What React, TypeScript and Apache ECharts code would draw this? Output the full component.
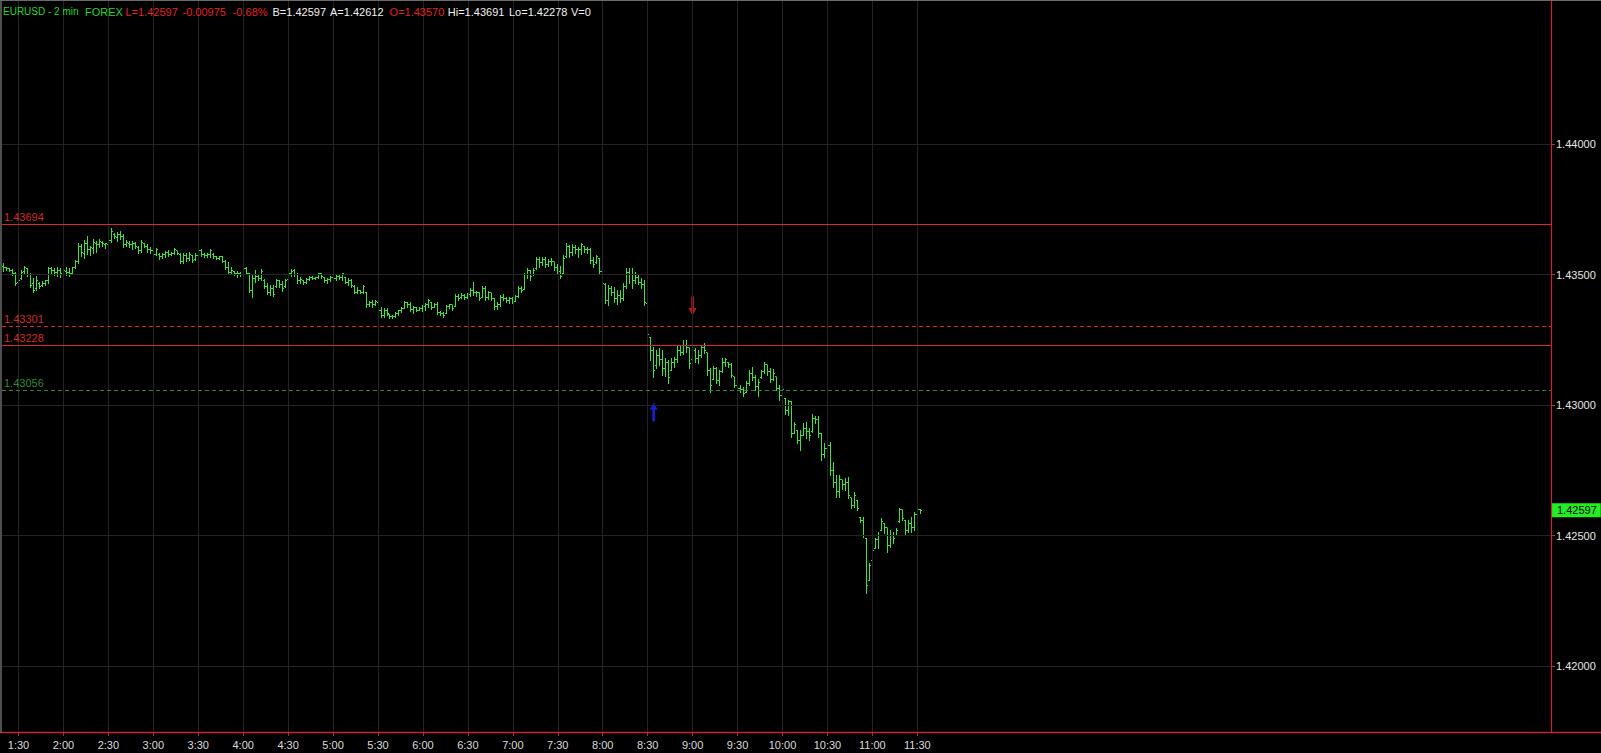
import React, { useEffect, useRef } from 'react';
import * as echarts from 'echarts';

// ---------- data ----------
const firstBarTime = '1:20';
const barMinutes = 2;
const slotCount = 517;
const timeLabels = ['1:30', '2:00', '2:30', '3:00', '3:30', '4:00', '4:30', '5:00', '5:30', '6:00', '6:30', '7:00', '7:30', '8:00', '8:30', '9:00', '9:30', '10:00', '10:30', '11:00', '11:30'];
const priceTicks = [1.42, 1.425, 1.43, 1.435, 1.44];
const priceMin = 1.417429;
const priceMax = 1.445494;
const levelPrices = [1.43694, 1.43301, 1.43228, 1.43056];
const lastPrice = 1.42597;
const signalBars = [217, 230];
const signalPrices = [1.42974, 1.4338];
const headerTexts = ['EURUSD - 2 min', 'FOREX', 'L=1.42597', '-0.00975', '-0.68%', 'B=1.42597', 'A=1.42612', 'O=1.43570', 'Hi=1.43691', 'Lo=1.42278', 'V=0'];

// [open, high, low, close] in 1e-5 units
const ohlcBars = [
  [143533,143545,143514,143526],[143526,143529,143518,143522],[143522,143526,143514,143518],[143518,143522,143499,143506],
  [143506,143510,143460,143468],[143472,143483,143468,143479],[143487,143518,143483,143510],[143514,143533,143506,143526],
  [143522,143526,143495,143499],[143499,143506,143453,143460],[143468,143487,143433,143441],[143449,143495,143441,143479],
  [143468,143472,143449,143456],[143460,143476,143456,143468],[143468,143479,143460,143476],[143476,143529,143468,143522],
  [143522,143529,143506,143518],[143518,143526,143499,143510],[143510,143529,143495,143518],[143518,143526,143491,143503],
  [143499,143529,143491,143518],[143514,143529,143499,143510],[143510,143526,143495,143503],[143506,143529,143503,143526],
  [143529,143556,143526,143549],[143549,143621,143545,143610],[143610,143618,143572,143587],[143583,143633,143564,143621],
  [143618,143648,143579,143595],[143595,143610,143575,143606],[143602,143637,143583,143625],[143621,143629,143587,143614],
  [143614,143637,143606,143629],[143625,143629,143610,143618],[143614,143621,143602,143618],[143614,143637,143606,143633],
  [143633,143679,143625,143667],[143656,143660,143641,143648],[143644,143664,143629,143656],[143656,143667,143637,143648],
  [143648,143656,143606,143614],[143614,143633,143610,143625],[143621,143629,143606,143614],[143614,143629,143598,143621],
  [143621,143625,143602,143610],[143606,143610,143583,143591],[143591,143633,143587,143625],[143618,143621,143606,143610],
  [143610,143618,143587,143595],[143598,143606,143583,143591],[143591,143598,143572,143579],[143579,143602,143575,143595],
  [143579,143583,143560,143568],[143568,143583,143564,143579],[143579,143591,143568,143587],[143587,143595,143572,143579],
  [143579,143587,143575,143583],[143583,143602,143579,143595],[143591,143591,143579,143583],[143579,143583,143545,143552],
  [143552,143583,143545,143572],[143572,143583,143552,143564],[143564,143587,143556,143579],[143572,143575,143549,143556],
  [143560,143583,143556,143575],[143572,143598,143564,143591],[143591,143598,143572,143579],[143579,143583,143568,143575],
  [143572,143583,143568,143579],[143579,143598,143568,143591],[143579,143583,143564,143568],[143568,143572,143560,143564],
  [143564,143572,143560,143568],[143568,143572,143549,143552],[143552,143556,143522,143529],[143529,143549,143503,143510],
  [143510,143529,143506,143518],[143514,143514,143499,143503],[143503,143514,143491,143506],[143506,143510,143495,143499],
  [143499,143529,143499,143522],[143522,143529,143503,143506],[143503,143506,143433,143441],[143441,143503,143414,143487],
  [143487,143518,143472,143495],[143495,143499,143479,143487],[143487,143522,143479,143514],[143479,143483,143449,143456],
  [143456,143468,143426,143433],[143433,143460,143422,143449],[143449,143460,143418,143426],[143456,143483,143453,143476],
  [143476,143479,143453,143464],[143464,143476,143437,143449],[143456,143483,143453,143479],[143483,143510,143479,143506],
  [143506,143522,143495,143514],[143518,143522,143495,143499],[143499,143506,143468,143476],[143476,143491,143468,143483],
  [143476,143479,143464,143472],[143472,143487,143468,143483],[143483,143495,143479,143491],[143491,143495,143483,143487],
  [143487,143491,143483,143491],[143491,143506,143487,143503],[143503,143506,143487,143495],[143491,143491,143472,143476],
  [143476,143487,143468,143483],[143483,143495,143476,143491],[143491,143495,143483,143487],[143487,143499,143479,143495],
  [143495,143499,143483,143491],[143491,143506,143479,143503],[143491,143491,143468,143472],[143472,143487,143460,143479],
  [143479,143483,143453,143460],[143456,143460,143430,143433],[143433,143453,143430,143441],[143441,143441,143430,143433],
  [143433,143460,143430,143456],[143430,143433,143376,143384],[143384,143399,143380,143395],[143395,143403,143376,143384],
  [143387,143403,143384,143399],[143395,143395,143353,143361],[143361,143376,143338,143345],[143345,143372,143338,143364],
  [143364,143372,143345,143353],[143349,143349,143334,143338],[143338,143345,143334,143341],[143341,143357,143338,143353],
  [143353,143364,143345,143361],[143361,143376,143357,143372],[143372,143399,143372,143395],[143395,143395,143376,143384],
  [143384,143395,143361,143368],[143368,143380,143353,143376],[143376,143376,143361,143364],[143364,143376,143364,143372],
  [143372,143384,143361,143380],[143380,143391,143364,143387],[143387,143407,143376,143403],[143395,143395,143368,143376],
  [143376,143391,143376,143387],[143387,143395,143349,143357],[143357,143361,143345,143353],[143353,143357,143338,143345],
  [143353,143384,143353,143380],[143380,143387,143372,143384],[143384,143384,143364,143372],[143380,143426,143380,143418],
  [143418,143426,143403,143410],[143414,143430,143410,143422],[143422,143426,143407,143414],[143414,143430,143410,143426],
  [143426,143449,143418,143441],[143441,143472,143422,143430],[143430,143437,143418,143433],[143433,143433,143403,143410],
  [143414,143456,143414,143449],[143449,143456,143403,143414],[143414,143437,143407,143430],[143430,143430,143403,143410],
  [143410,143410,143368,143380],[143380,143395,143368,143387],[143387,143422,143380,143414],[143414,143426,143403,143410],
  [143410,143414,143395,143403],[143403,143414,143391,143407],[143407,143414,143391,143399],[143399,143422,143399,143418],
  [143418,143456,143414,143449],[143449,143456,143433,143441],[143445,143506,143445,143499],[143499,143526,143487,143518],
  [143518,143518,143479,143495],[143499,143526,143499,143518],[143522,143568,143522,143560],[143560,143568,143529,143545],
  [143545,143568,143537,143560],[143560,143568,143529,143541],[143541,143560,143533,143552],[143552,143564,143537,143549],
  [143549,143549,143518,143526],[143526,143541,143506,143514],[143514,143533,143487,143495],[143503,143575,143503,143564],
  [143568,143621,143568,143610],[143610,143614,143568,143587],[143587,143618,143575,143606],[143606,143614,143583,143595],
  [143595,143606,143568,143598],[143598,143621,143579,143614],[143610,143610,143587,143595],[143595,143606,143583,143598],
  [143598,143602,143545,143556],[143556,143568,143529,143541],[143545,143575,143545,143568],[143564,143564,143503,143514],
  [143514,143526,143460,143468],[143464,143468,143391,143403],[143403,143460,143384,143449],[143449,143456,143422,143433],
  [143433,143453,143395,143407],[143407,143441,143387,143422],[143422,143441,143395,143410],[143410,143468,143403,143456],
  [143456,143526,143449,143510],[143510,143526,143468,143499],[143499,143526,143449,143479],[143479,143510,143468,143491],
  [143491,143499,143464,143472],[143472,143487,143449,143464],[143464,143479,143384,143395],[143391,143391,143257,143269],
  [143261,143261,143173,143211],[143211,143223,143108,143134],[143150,143211,143142,143192],[143192,143219,143154,143173],
  [143173,143211,143115,143142],[143142,143180,143111,143165],[143165,143173,143085,143104],[143134,143180,143134,143165],
  [143165,143184,143146,143173],[143173,143226,143165,143211],[143211,143226,143192,143203],[143203,143249,143196,143230],
  [143230,143249,143203,143219],[143219,143219,143142,143161],[143173,143253,143173,143230],[143211,143219,143165,143180],
  [143180,143211,143161,143192],[143192,143230,143184,143219],[143219,143238,143200,143211],[143200,143200,143115,143134],
  [143134,143142,143050,143077],[143100,143150,143100,143142],[143142,143146,143085,143096],[143096,143134,143077,143127],
  [143127,143180,143127,143165],[143165,143180,143150,143173],[143165,143165,143146,143154],[143154,143161,143108,143115],
  [143108,143108,143069,143077],[143077,143085,143050,143065],[143065,143077,143050,143058],[143058,143069,143035,143046],
  [143050,143092,143050,143081],[143081,143134,143077,143123],[143123,143146,143096,143104],[143104,143115,143058,143073],
  [143073,143100,143035,143088],[143104,143134,143104,143127],[143127,143165,143123,143154],[143154,143154,143115,143127],
  [143127,143142,143088,143100],[143100,143138,143096,143123],[143108,143108,143058,143065],[143065,143077,143019,143035],
  [143035,143077,143019,143058],[143027,143027,142966,142981],[142981,143019,142962,143012],[143012,143016,142878,142893],
  [142893,142935,142893,142924],[142904,142904,142855,142866],[142866,142904,142828,142885],[142885,142931,142885,142912],
  [142912,142935,142874,142897],[142897,142912,142866,142885],[142897,142966,142897,142950],[142950,142958,142931,142943],
  [142943,142958,142878,142893],[142893,142893,142789,142809],[142809,142855,142801,142835],[142835,142855,142820,142847],
  [142847,142858,142732,142751],[142751,142782,142686,142705],[142705,142732,142648,142667],[142667,142732,142648,142713],
  [142713,142713,142678,142694],[142694,142720,142674,142705],[142705,142724,142644,142655],[142644,142644,142605,142617],
  [142617,142667,142609,142655],[142636,142636,142598,142605],[142571,142571,142552,142559],[142559,142571,142494,142502],
  [142490,142490,142278,142310],[142329,142394,142329,142387],[142406,142456,142406,142444],[142452,142490,142452,142483],
  [142483,142513,142452,142502],[142521,142567,142521,142552],[142548,142548,142510,142529],[142529,142529,142437,142463],
  [142463,142521,142456,142502],[142502,142513,142471,142490],[142502,142529,142502,142521],[142552,142605,142552,142598],
  [142598,142598,142559,142567],[142559,142559,142502,142521],[142521,142559,142513,142548],[142548,142571,142513,142529],
  [142529,142590,142521,142579],[142579,142613,142559,142598],[142598,142602,142586,142597],
];

// ---------- styles ----------
const BAR_COLOR = '#40e040';
const GRID_COLOR = '#242424';
const FRAME_RED = '#c8262b';
const LEVEL_STYLES = [
  { color: '#d42a2a', type: 'solid' as const },
  { color: '#d42a2a', type: [4, 3] as any },
  { color: '#d42a2a', type: 'solid' as const },
  { color: '#2f8a2f', type: [4, 3] as any },
];
const HEADER_X = [3, 85, 125.5, 182.5, 232.7, 272.5, 330, 389.6, 447.8, 509, 571];
const HEADER_SIZE = [10, 11, 11, 11, 11, 11, 11, 11, 11, 11, 11];
const HEADER_COLORS = ['#28d428', '#28d428', '#e52424', '#e52424', '#e52424', '#f2f2f2', '#f2f2f2', '#e52424', '#f2f2f2', '#f2f2f2', '#f2f2f2'];
const NARROW = '"Liberation Sans Narrow", "Liberation Sans", Arial, sans-serif';
const SANS = '"Liberation Sans", Arial, sans-serif';

function toTime(m: number) {
  const h = Math.floor(m / 60);
  const mm = m % 60;
  return `${h}:${mm < 10 ? '0' + mm : mm}`;
}

export default function App() {
  const ref = useRef<HTMLDivElement>(null);

  useEffect(() => {
    if (!ref.current) return;
    const chart = echarts.init(ref.current, null, { renderer: 'svg' });

    const [h0, m0] = firstBarTime.split(':').map(Number);
    const categories = Array.from({ length: slotCount }, (_, i) => toTime(h0 * 60 + m0 + i * barMinutes));
    const labelSet = new Set(timeLabels);
    const showAt = (_: number, v: string) => labelSet.has(v);

    const ohlcData = ohlcBars.map((b, i) => [i, b[0] / 1e5, b[1] / 1e5, b[2] / 1e5, b[3] / 1e5]);

    const snap = (v: number) => Math.round(v - 0.5) + 0.5;

    const option: any = {
      animation: false,
      backgroundColor: '#000000',
      grid: { left: 2, right: 50, top: 1, bottom: 20 },
      xAxis: {
        type: 'category',
        data: categories,
        boundaryGap: true,
        axisLine: { show: false },
        axisTick: { show: true, alignWithLabel: true, interval: showAt, length: 3, lineStyle: { color: FRAME_RED } },
        axisLabel: { interval: showAt, color: '#dcdcdc', fontSize: 11, fontFamily: NARROW, margin: 6 },
        splitLine: { show: false },
      },
      yAxis: {
        type: 'value',
        position: 'right',
        min: priceMin,
        max: priceMax,
        scale: true,
        axisLine: { show: false },
        axisTick: { show: true, length: 4, lineStyle: { color: FRAME_RED }, customValues: priceTicks },
        axisLabel: {
          color: '#e8e8e8',
          fontSize: 11,
          fontFamily: SANS,
          margin: 5,
          customValues: priceTicks,
          formatter: (v: number) => (priceTicks.some((p) => Math.abs(p - v) < 1e-7) ? v.toFixed(5) : ''),
        },
        splitLine: { show: false },
      },
      graphic: [
        { type: 'line', z: 100, shape: { x1: 0, y1: 732.5, x2: 1601, y2: 732.5 }, style: { stroke: FRAME_RED, lineWidth: 1.5 } },
        { type: 'line', z: 100, shape: { x1: 1551.5, y1: 0, x2: 1551.5, y2: 733 }, style: { stroke: FRAME_RED, lineWidth: 1.2 } },
        { type: 'line', z: 100, shape: { x1: 0, y1: 0.5, x2: 1601, y2: 0.5 }, style: { stroke: '#6a6a6a', lineWidth: 1 } },
        { type: 'line', z: 100, shape: { x1: 1, y1: 0, x2: 1, y2: 733 }, style: { stroke: '#6a6a6a', lineWidth: 1.5 } },
        ...headerTexts.map((t, i) => ({
          type: 'text',
          z: 101,
          x: HEADER_X[i],
          y: 11.5,
          style: { text: t, fill: HEADER_COLORS[i], font: `${HEADER_SIZE[i]}px ${SANS}`, verticalAlign: 'middle', align: 'left' },
        })),
      ],
      series: [
        {
          name: 'grid',
          type: 'line',
          data: [],
          z: 1,
          silent: true,
          markLine: {
            silent: true,
            precision: 5,
            symbol: ['none', 'none'],
            label: { show: false },
            lineStyle: { color: GRID_COLOR, type: 'solid', width: 1 },
            emphasis: { disabled: true },
            data: [
              ...timeLabels.map((t) => ({ xAxis: t })),
              ...priceTicks.map((p) => ({ yAxis: p })),
            ],
          },
        },
        {
          name: 'levels',
          type: 'line',
          data: [],
          z: 2,
          silent: true,
          markLine: {
            silent: true,
            symbol: ['none', 'none'],
            emphasis: { disabled: true },
            precision: 5,
            data: [
              ...levelPrices.map((p, i) => ({
                yAxis: p,
                lineStyle: { color: LEVEL_STYLES[i].color, type: LEVEL_STYLES[i].type, width: 1 },
                label: {
                  show: true,
                  position: 'insideStartTop',
                  distance: 2,
                  formatter: p.toFixed(5),
                  color: LEVEL_STYLES[i].color,
                  fontSize: 11,
                  fontFamily: SANS,
                },
              })),
            ],
          },
        },
        {
          name: 'last',
          type: 'line',
          data: [],
          z: 5,
          silent: true,
          markLine: {
            silent: true,
            precision: 5,
            symbol: ['none', 'none'],
            emphasis: { disabled: true },
            lineStyle: { color: 'rgba(0,0,0,0)', width: 1 },
            data: [
              {
                yAxis: lastPrice,
                label: {
                  show: true,
                  position: 'end',
                  distance: 1,
                  formatter: lastPrice.toFixed(5),
                  color: '#000000',
                  backgroundColor: '#22ee22',
                  padding: [1, 4, 1, 5],
                  lineHeight: 12,
                  fontSize: 11,
                  fontFamily: SANS,
                  opacity: 1,
                },
              },
            ],
          },
        },
        {
          name: 'EURUSD',
          type: 'custom',
          z: 3,
          silent: true,
          data: ohlcData,
          encode: { x: 0, y: [1, 2, 3, 4] },
          renderItem: (_params: any, api: any) => {
            const i = api.value(0);
            const o = api.coord([i, api.value(1)]);
            const h = api.coord([i, api.value(2)]);
            const l = api.coord([i, api.value(3)]);
            const c = api.coord([i, api.value(4)]);
            const x = snap(h[0]);
            const style = { stroke: BAR_COLOR, lineWidth: 1 };
            const oy = snap(o[1]);
            const cy = snap(c[1]);
            return {
              type: 'group',
              children: [
                { type: 'line', shape: { x1: x, y1: Math.round(h[1]), x2: x, y2: Math.round(l[1]) + 1 }, style },
                { type: 'line', shape: { x1: x - 1.5, y1: oy, x2: x, y2: oy }, style },
                { type: 'line', shape: { x1: x, y1: cy, x2: x + 1.5, y2: cy }, style },
              ],
            };
          },
        },
        {
          name: 'signals',
          type: 'scatter',
          z: 4,
          silent: true,
          data: [
            {
              value: [signalBars[0], signalPrices[0]],
              symbol: 'path://M3,0L6,7L4,7L4,18L2,18L2,7L0,7Z',
              itemStyle: { color: '#2424ff' },
            },
            {
              value: [signalBars[1], signalPrices[1]],
              symbol: 'path://M2,0L4,0L4,11L6,11L3,18L0,11L2,11Z',
              itemStyle: { color: '#e8201c' },
            },
          ],
          symbolSize: [8, 19],
        },
      ],
    };

    chart.setOption(option);
    return () => chart.dispose();
  }, []);

  return (
    <div
      ref={ref}
      style={{ position: 'fixed', left: 0, top: 0, width: 1601, height: 753, background: '#000' }}
    />
  );
}
